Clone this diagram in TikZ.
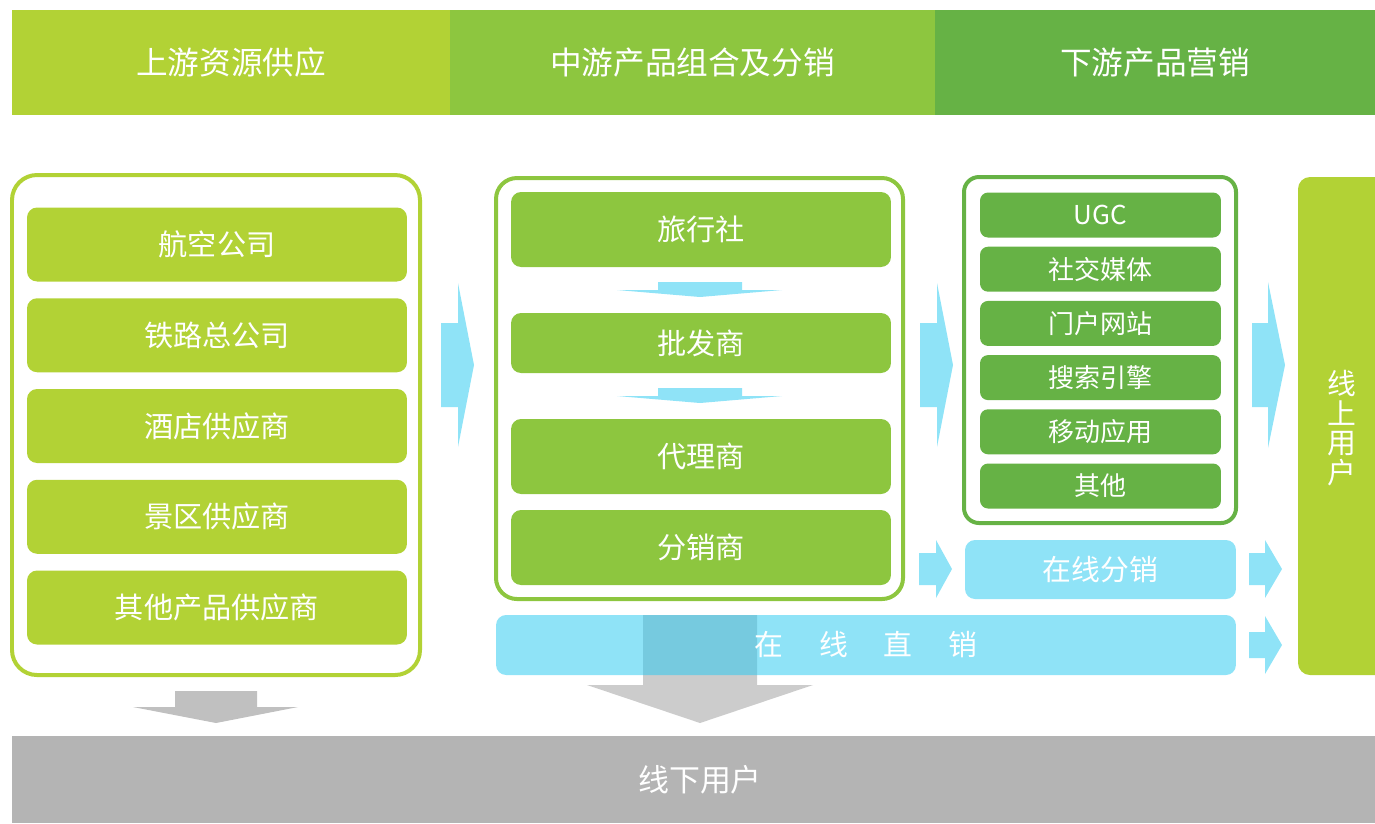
\documentclass[tikz,border=0pt]{standalone}
\usepackage{fontspec}
\newfontfamily\cjk{Noto Sans CJK SC}
\definecolor{upgreen}{HTML}{B2D235}
\definecolor{midgreen}{HTML}{8DC63F}
\definecolor{downgreen}{HTML}{66B245}
\definecolor{flowcyan}{HTML}{8FE3F7}
\definecolor{flowbase}{RGB}{43,202,240}
\definecolor{usergrey}{HTML}{B4B4B4}
\definecolor{lgrey}{HTML}{C0C0C0}
\definecolor{mgrey}{HTML}{CCCCCC}

\begin{document}
\begin{tikzpicture}[x=0.02cm,y=-0.02cm,
  headbox/.style={minimum height=2.1cm, inner sep=0pt, text=white, font=\cjk\fontsize{18}{20}\selectfont},
  itembox/.style={rounded corners=0.2cm, inner sep=0pt, text=white, minimum width=7.6cm, font=\cjk\fontsize{16.6}{18}\selectfont},
  mediabox/.style={fill=downgreen, rounded corners=0.16cm, inner sep=0pt, text=white, minimum width=4.82cm, minimum height=0.9cm, font=\cjk\fontsize{14.8}{16}\selectfont},
  stage/.style={line width=0.08cm},
  flowbox/.style={rounded corners=0.2cm, inner sep=0pt, text=white, font=\cjk\fontsize{16.4}{18}\selectfont}]
  \useasboundingbox (0,0) rectangle (1375,823);

  \node[headbox, fill=upgreen, minimum width=8.76cm] (up) at (231,62.5) {上游资源供应};
  \node[headbox, fill=midgreen, minimum width=9.7cm] (mid) at (692.5,62.5) {中游产品组合及分销};
  \node[headbox, fill=downgreen, minimum width=8.8cm] (down) at (1155,62.5) {下游产品营销};

  % upstream
  \draw[stage, upgreen, rounded corners=0.5cm] (12,175) rectangle (420,675);
  \foreach \txt [count=\i] in {航空公司,铁路总公司,酒店供应商,景区供应商,其他产品供应商}
    \node[itembox, fill=upgreen, minimum height=1.48cm] (sup\i) at (217,{244.5+90.75*(\i-1)}) {\txt};

  % midstream
  \draw[stage, midgreen, rounded corners=0.42cm] (496,178) rectangle (903,599);
  \node[itembox, fill=midgreen, minimum height=1.5cm] (agency) at (701,229.5) {旅行社};
  \node[itembox, fill=midgreen, minimum height=1.2cm] (whole) at (701,343) {批发商};
  \node[itembox, fill=midgreen, minimum height=1.5cm] (agent) at (701,456.5) {代理商};
  \node[itembox, fill=midgreen, minimum height=1.5cm] (dist) at (701,547.5) {分销商};
  \foreach \y in {282,388}
    \fill[flowcyan] (658,\y) -- (742,\y) -- (742,\y+8) -- (782,\y+8) -- (700,\y+15) -- (617,\y+8) -- (658,\y+8) -- cycle;

  % downstream
  \draw[stage, downgreen, rounded corners=0.3cm] (964,177) rectangle (1236,523);
  \foreach \txt [count=\i] in {UGC,社交媒体,门户网站,搜索引擎,移动应用,其他}
    \node[mediabox] (media\i) at (1100.5,{215+54.2*(\i-1)}) {\txt};

  \fill[upgreen, rounded corners=0.24cm] (1298,177) rectangle (1400,675);
  \node[text=white, align=center, font=\cjk\fontsize{16.4}{16.8}\selectfont] (online) at (1342,428) {线\\上\\用\\户};

  \fill[usergrey] (12,736) rectangle (1375,823);
  \node[text=white, font=\cjk\fontsize{17.6}{20}\selectfont] (offline) at (700,780) {线下用户};

  % grey arrows to offline users
  \fill[lgrey] (175,691) -- (257,691) -- (257,707) -- (298,707) -- (216,723) -- (133,707) -- (175,707) -- cycle;
  \fill[mgrey] (643,615) -- (757,615) -- (757,685) -- (813,685) -- (700,723) -- (587,685) -- (643,685) -- cycle;

  \node[flowbox, fill=flowcyan, minimum width=5.42cm, minimum height=1.18cm] (odist) at (1100.5,569.5) {在线分销};
  \node[flowbox, fill=flowbase, fill opacity=0.53, text opacity=1, minimum width=14.8cm, minimum height=1.2cm] (direct) at (866,645)
    {在\hspace{1.25em}线\hspace{1.25em}直\hspace{1.25em}销};

  % cyan arrows
  \foreach \xa/\xb/\xc/\ym/\hs/\hh in {441/458/474/365/42/82, 920/937/953/365/42/82, 1252/1268/1285/365/42/83,
      919/936/952/569/16/29, 1249/1265/1282/569/16/29, 1249/1265/1282/645/13/29}
    \fill[flowcyan] (\xa,\ym-\hs) -- (\xb,\ym-\hs) -- (\xb,\ym-\hh) -- (\xc,\ym) -- (\xb,\ym+\hh) -- (\xb,\ym+\hs) -- (\xa,\ym+\hs) -- cycle;
\end{tikzpicture}
\end{document}
